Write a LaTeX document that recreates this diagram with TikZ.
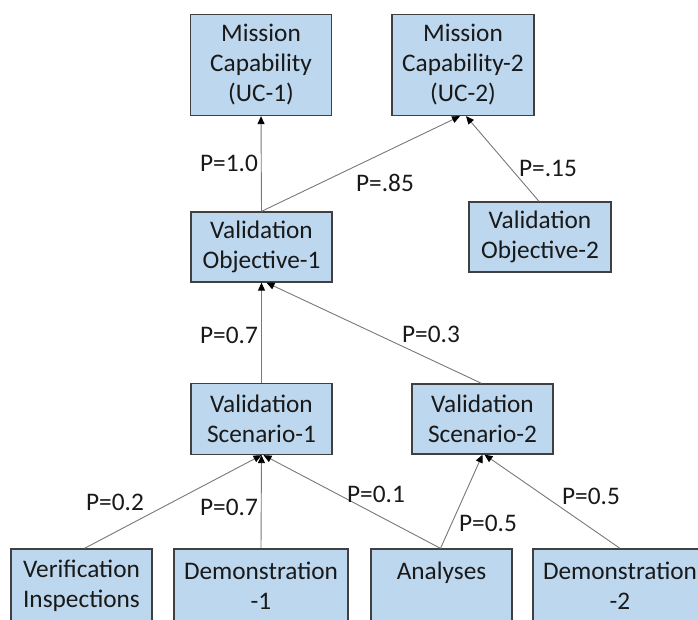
\documentclass[tikz,border=0pt]{standalone}
\usepackage{fontspec}
\setmainfont{Carlito}
\usetikzlibrary{arrows.meta}
\definecolor{boxfill}{RGB}{189,215,238}
\definecolor{boxline}{RGB}{64,64,64}
\definecolor{conn}{RGB}{120,120,120}
\tikzset{
  box/.style={draw=boxline, fill=boxfill, line width=1.3pt, align=center, inner sep=0pt,
    font=\fontsize{25.3}{30}\selectfont, text=black!90},
  lbl/.style={font=\fontsize{25.3}{30}\selectfont, inner sep=0pt, text=black!90},
  conn/.style={draw=conn, line width=0.9pt, -{Triangle[length=8pt,width=7pt,color=black]}}
}
\begin{document}
\begin{tikzpicture}[x=1pt,y=-1pt]
\useasboundingbox (0,0) rectangle (698,620);
% boxes
\node[box, minimum width=141pt, minimum height=101pt] (uc1) at (261,65) {Mission\\Capability\\(UC-1)};
\node[box, minimum width=142pt, minimum height=101pt] (uc2) at (463,65) {Mission\\Capability-2\\(UC-2)};
\node[box, minimum width=141pt, minimum height=70pt] (vo1) at (261.5,247) {Validation\\Objective-1};
\node[box, minimum width=142pt, minimum height=70pt] (vo2) at (540,237) {Validation\\Objective-2};
\node[box, minimum width=141pt, minimum height=71pt] (vs1) at (261.5,419) {Validation\\Scenario-1};
\node[box, minimum width=141pt, minimum height=70pt] (vs2) at (482.5,419) {Validation\\Scenario-2};
\node[box, minimum width=141pt, minimum height=74pt] (ver) at (81.5,586) {Verification\\Inspections};
\node[box, minimum width=174pt, minimum height=74pt] (demo1) at (261,586) {Demonstration\\-1};
\node[box, minimum width=141pt, minimum height=74pt] (ana) at (441.5,586) {Analyses\\\mbox{}};
\node[box, minimum width=174pt, minimum height=74pt] (demo2) at (620,586) {Demonstration\\-2};
% connectors
\draw[conn] (vo1.north) -- (uc1.south);
\draw[conn] (vo1.north) -- ([xshift=-3pt]uc2.south);
\draw[conn] ([xshift=-1pt]vo2.north) -- ([xshift=3pt]uc2.south);
\draw[conn] (vs1.north) -- (vo1.south);
\draw[conn] ([xshift=-1pt]vs2.north) -- ([xshift=5pt]vo1.south);
\draw[conn] ([xshift=3pt]ver.north) -- (vs1.south);
\draw[conn] (demo1.north) -- (vs1.south);
\draw[conn] ([xshift=-1pt]ana.north) -- ([xshift=2pt]vs1.south);
\draw[conn] ([xshift=-1pt]ana.north) -- (vs2.south);
\draw[conn] (demo2.north) -- ([xshift=2pt]vs2.south);
% labels
\node[lbl] (l1) at (229,163) {P=1.0};
\node[lbl] (l2) at (385,183) {P=.85};
\node[lbl] (l3) at (548,168) {P=.15};
\node[lbl] (l4) at (229,335) {P=0.7};
\node[lbl] (l5) at (431,334) {P=0.3};
\node[lbl] (l6) at (115,502) {P=0.2};
\node[lbl] (l7) at (229,507) {P=0.7};
\node[lbl] (l8) at (376,494) {P=0.1};
\node[lbl] (l9) at (488,523) {P=0.5};
\node[lbl] (l10) at (591,496) {P=0.5};
\end{tikzpicture}
\end{document}
